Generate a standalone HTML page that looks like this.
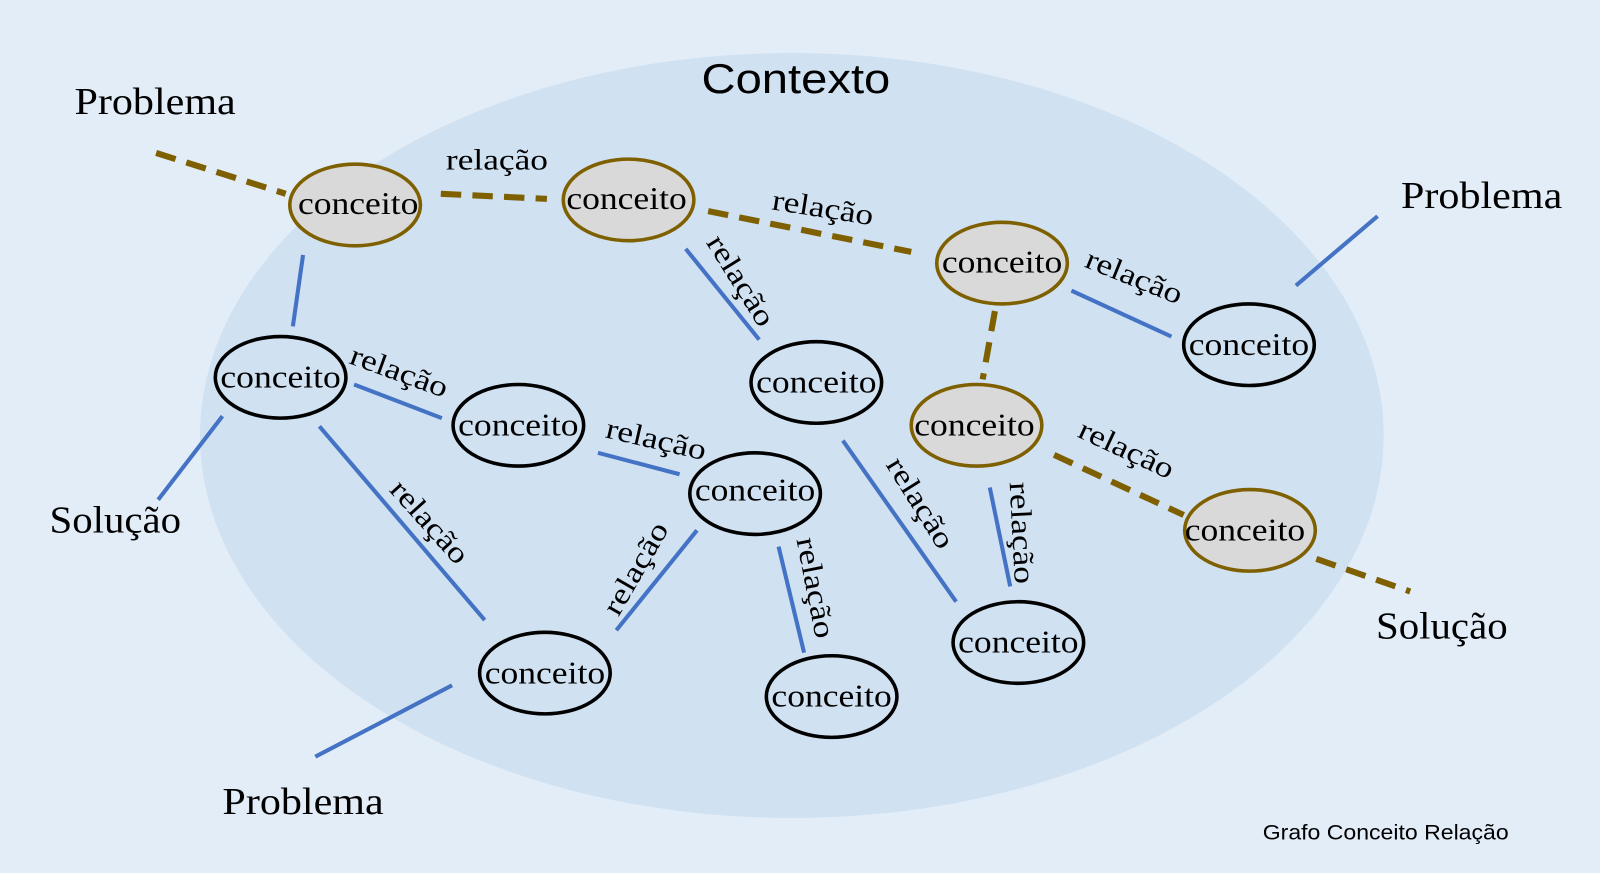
<!DOCTYPE html>
<html><head><meta charset="utf-8"><style>html,body{margin:0;padding:0;background:#e2edf8}svg{display:block}</style></head><body>
<svg width="1600" height="873" viewBox="0 0 1568 856" preserveAspectRatio="none" xmlns="http://www.w3.org/2000/svg">
<rect width="1568" height="856" fill="#e2edf8"/>
<ellipse cx="776" cy="427" rx="580" ry="375" fill="#d0e1f2"/>
<text x="780" y="91" font-family="Liberation Sans, sans-serif" font-size="41" text-anchor="middle" fill="#000" textLength="185" lengthAdjust="spacingAndGlyphs">Contexto</text>
<g stroke="#7f6000" stroke-width="6" stroke-dasharray="20,11" fill="none">
<line x1="153" y1="150" x2="280" y2="190"/>
<line x1="432" y1="190" x2="536" y2="195"/>
<line x1="694" y1="207" x2="893" y2="247"/>
<line x1="975" y1="305" x2="963" y2="372"/>
<line x1="1033" y1="446" x2="1160" y2="505"/>
<line x1="1290" y1="548" x2="1382" y2="580"/>
</g>
<g stroke="#4472c4" stroke-width="4" fill="none">
<line x1="297" y1="250" x2="287" y2="320"/>
<line x1="347" y1="377" x2="433" y2="410"/>
<line x1="218" y1="408" x2="155" y2="490"/>
<line x1="313" y1="418" x2="475" y2="608"/>
<line x1="586" y1="444" x2="666" y2="465"/>
<line x1="672" y1="244" x2="744" y2="333"/>
<line x1="1050" y1="285" x2="1148" y2="330"/>
<line x1="1270" y1="280" x2="1350" y2="212"/>
<line x1="683" y1="520" x2="604" y2="618"/>
<line x1="763" y1="536" x2="788" y2="640"/>
<line x1="826" y1="432" x2="937" y2="590"/>
<line x1="970" y1="478" x2="990" y2="575"/>
<line x1="443" y1="672" x2="309" y2="742"/>
</g>
<g stroke-width="3.5">
<ellipse cx="348" cy="201" rx="64" ry="40" fill="#d9d9d9" stroke="#7f6000"/>
<ellipse cx="616" cy="196" rx="64" ry="40" fill="#d9d9d9" stroke="#7f6000"/>
<ellipse cx="982" cy="258" rx="64" ry="40" fill="#d9d9d9" stroke="#7f6000"/>
<ellipse cx="957" cy="417" rx="64" ry="40" fill="#d9d9d9" stroke="#7f6000"/>
<ellipse cx="1225" cy="520" rx="64" ry="40" fill="#d9d9d9" stroke="#7f6000"/>
<ellipse cx="1224" cy="338" rx="64" ry="40" fill="none" stroke="#000"/>
<ellipse cx="275" cy="370" rx="64" ry="40" fill="none" stroke="#000"/>
<ellipse cx="508" cy="417" rx="64" ry="40" fill="none" stroke="#000"/>
<ellipse cx="800" cy="375" rx="64" ry="40" fill="none" stroke="#000"/>
<ellipse cx="740" cy="484" rx="64" ry="40" fill="none" stroke="#000"/>
<ellipse cx="534" cy="660" rx="64" ry="40" fill="none" stroke="#000"/>
<ellipse cx="815" cy="683" rx="64" ry="40" fill="none" stroke="#000"/>
<ellipse cx="998" cy="630" rx="64" ry="40" fill="none" stroke="#000"/>
</g>
<g font-family="Liberation Serif, serif" font-size="31" text-anchor="middle" fill="#000">
<text x="351" y="210" textLength="118" lengthAdjust="spacingAndGlyphs">conceito</text>
<text x="614" y="205" textLength="118" lengthAdjust="spacingAndGlyphs">conceito</text>
<text x="982" y="267" textLength="118" lengthAdjust="spacingAndGlyphs">conceito</text>
<text x="955" y="427" textLength="118" lengthAdjust="spacingAndGlyphs">conceito</text>
<text x="1220" y="530" textLength="118" lengthAdjust="spacingAndGlyphs">conceito</text>
<text x="1224" y="348" textLength="118" lengthAdjust="spacingAndGlyphs">conceito</text>
<text x="275" y="380" textLength="118" lengthAdjust="spacingAndGlyphs">conceito</text>
<text x="508" y="427" textLength="118" lengthAdjust="spacingAndGlyphs">conceito</text>
<text x="800" y="385" textLength="118" lengthAdjust="spacingAndGlyphs">conceito</text>
<text x="740" y="491" textLength="118" lengthAdjust="spacingAndGlyphs">conceito</text>
<text x="534" y="670" textLength="118" lengthAdjust="spacingAndGlyphs">conceito</text>
<text x="815" y="693" textLength="118" lengthAdjust="spacingAndGlyphs">conceito</text>
<text x="998" y="640" textLength="118" lengthAdjust="spacingAndGlyphs">conceito</text>
</g>
<g font-family="Liberation Serif, serif" font-size="29" text-anchor="middle" fill="#000">
<text transform="translate(487,166)" textLength="100" lengthAdjust="spacingAndGlyphs">relação</text>
<text transform="translate(805,213) rotate(9)" textLength="100" lengthAdjust="spacingAndGlyphs">relação</text>
<text transform="translate(718,280) rotate(58)" textLength="100" lengthAdjust="spacingAndGlyphs">relação</text>
<text transform="translate(1108,280) rotate(22)" textLength="100" lengthAdjust="spacingAndGlyphs">relação</text>
<text transform="translate(388,373) rotate(20)" textLength="100" lengthAdjust="spacingAndGlyphs">relação</text>
<text transform="translate(641,440) rotate(13)" textLength="100" lengthAdjust="spacingAndGlyphs">relação</text>
<text transform="translate(414,518) rotate(48)" textLength="100" lengthAdjust="spacingAndGlyphs">relação</text>
<text transform="translate(631,562) rotate(-60)" textLength="100" lengthAdjust="spacingAndGlyphs">relação</text>
<text transform="translate(790,578) rotate(79)" textLength="100" lengthAdjust="spacingAndGlyphs">relação</text>
<text transform="translate(894,498) rotate(58)" textLength="100" lengthAdjust="spacingAndGlyphs">relação</text>
<text transform="translate(992,523) rotate(87)" textLength="100" lengthAdjust="spacingAndGlyphs">relação</text>
<text transform="translate(1100,449) rotate(25)" textLength="100" lengthAdjust="spacingAndGlyphs">relação</text>
</g>
<g font-family="Liberation Serif, serif" font-size="37" text-anchor="middle" fill="#000">
<text x="152" y="112" textLength="158" lengthAdjust="spacingAndGlyphs">Problema</text>
<text x="1452" y="204" textLength="158" lengthAdjust="spacingAndGlyphs">Problema</text>
<text x="297" y="798" textLength="158" lengthAdjust="spacingAndGlyphs">Problema</text>
<text x="113" y="522" textLength="129" lengthAdjust="spacingAndGlyphs">Solução</text>
<text x="1413" y="626" textLength="129" lengthAdjust="spacingAndGlyphs">Solução</text>
</g>
<text x="1358" y="823" font-family="Liberation Sans, sans-serif" font-size="21" text-anchor="middle" fill="#000" textLength="241" lengthAdjust="spacingAndGlyphs">Grafo Conceito Relação</text>
</svg>
</body></html>
